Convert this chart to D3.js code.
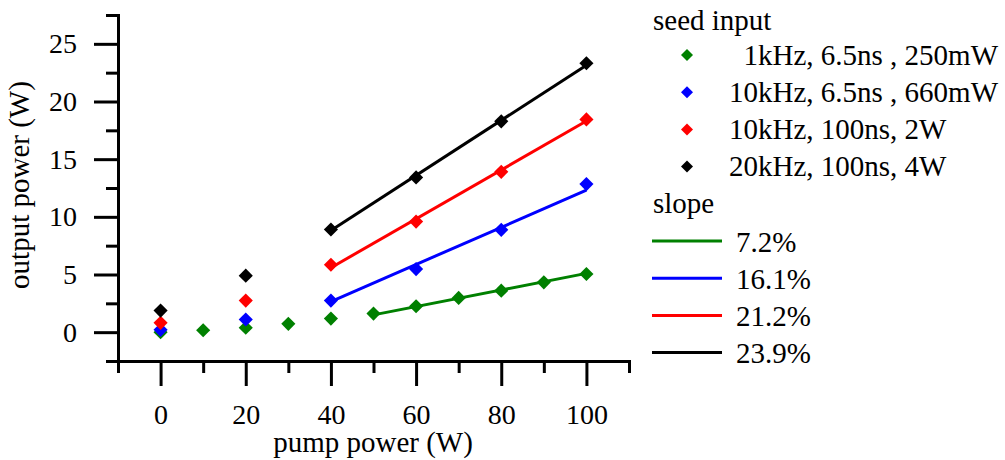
<!DOCTYPE html>
<html>
<head>
<meta charset="utf-8">
<script src="https://cdn.jsdelivr.net/npm/d3@7"></script>
<style>
  html, body { margin: 0; padding: 0; background: #fff; }
  svg { display: block; font-family: "Liberation Serif", "Times New Roman", serif; }
  .lbl { white-space: pre; }
</style>
</head>
<body>
<svg id="chart" width="1005" height="460"></svg>
<script>
// Pump power (W) at which each seed configuration was measured
const pump1k = [0, 10, 20, 30, 40, 50, 60, 70, 80, 90, 100];
const pumpOther = [0, 20, 40, 60, 80, 100];

// Output power (W)
const out1k = [0.0, 0.17, 0.38, 0.72, 1.18, 1.61, 2.25, 2.97, 3.6, 4.32, 5.04];
const out10kShort = [0.2, 1.1, 2.74, 5.47, 8.87, 12.84];
const out10kLong = [0.81, 2.74, 5.85, 9.59, 13.9, 18.45];
const out20kLong = [1.87, 4.9, 8.9, 13.42, 18.28, 23.32];

const seedLabels = ["  1kHz, 6.5ns , 250mW", "10kHz, 6.5ns , 660mW", "10kHz, 100ns, 2W", "20kHz, 100ns, 4W"];
const seriesColors = ["#008000", "#0000ff", "#ff0000", "#000000"];

// Slope efficiencies (%) and the pump range each linear fit covers
const slopes = [7.2, 16.1, 21.2, 23.9];
const fitFrom = [50, 40, 40, 40];
const fitTo = [100, 100, 100, 100];

const xMajor = [0, 20, 40, 60, 80, 100];
const xMinor = [-10, 10, 30, 50, 70, 90, 110];
const yMajor = [0, 5, 10, 15, 20, 25];
const yMinor = [-2.5, 2.5, 7.5, 12.5, 17.5, 22.5, 27.5];

const series = [
  { x: pump1k, y: out1k },
  { x: pumpOther, y: out10kShort },
  { x: pumpOther, y: out10kLong },
  { x: pumpOther, y: out20kLong }
].map((s, i) => ({
  pts: s.x.map((v, j) => ({ x: v, y: s.y[j] })),
  color: seriesColors[i],
  label: seedLabels[i],
  slope: slopes[i],
  from: fitFrom[i],
  to: fitTo[i]
}));

const svg = d3.select("#chart");
const x = d3.scaleLinear().domain([-10, 110]).range([118, 629]);
const y = d3.scaleLinear().domain([-2.5, 27.5]).range([361, 15]);

const tickFont = 28;
const textFont = 29;

function styleAxis(g) {
  g.selectAll("path.domain").attr("stroke", "#000").attr("stroke-width", 3).attr("stroke-linecap", "square");
  g.selectAll(".tick line").attr("stroke", "#000").attr("stroke-width", 3);
  g.selectAll(".tick text").attr("fill", "#000").style("font-size", tickFont + "px")
    .style("font-family", '"Liberation Serif", "Times New Roman", serif');
}

// X axis: minor then major ticks
svg.append("g").attr("transform", `translate(0,${y.range()[0]})`)
  .call(d3.axisBottom(x).tickValues(xMinor).tickSize(12).tickSizeOuter(0).tickFormat(""))
  .call(styleAxis);
svg.append("g").attr("transform", `translate(0,${y.range()[0]})`)
  .call(d3.axisBottom(x).tickValues(xMajor).tickSize(25).tickSizeOuter(0).tickPadding(18).tickFormat(d3.format("d")))
  .call(styleAxis)
  .call(g => g.select("path.domain").remove());

// Y axis: minor then major ticks
svg.append("g").attr("transform", `translate(${x.range()[0]},0)`)
  .call(d3.axisLeft(y).tickValues(yMinor).tickSize(12).tickSizeOuter(0).tickFormat(""))
  .call(styleAxis);
svg.append("g").attr("transform", `translate(${x.range()[0]},0)`)
  .call(d3.axisLeft(y).tickValues(yMajor).tickSize(24).tickSizeOuter(0).tickPadding(17).tickFormat(d3.format("d")))
  .call(styleAxis)
  .call(g => g.select("path.domain").remove());

// Axis titles
svg.append("text")
  .attr("x", 373).attr("y", 452)
  .attr("text-anchor", "middle")
  .style("font-size", textFont + "px")
  .text("pump power (W)");
svg.append("text")
  .attr("transform", "translate(29,185) rotate(-90)")
  .attr("text-anchor", "middle")
  .style("font-size", textFont + "px")
  .text("output power (W)");

// Linear fits: stated slope through the centroid of the fitted points
const line = d3.line().x(d => x(d.x)).y(d => y(d.y));
series.forEach(s => {
  const fitPts = s.pts.filter(p => p.x >= s.from && p.x <= s.to);
  const mx = d3.mean(fitPts, p => p.x);
  const my = d3.mean(fitPts, p => p.y);
  const k = s.slope / 100;
  const f = v => my + k * (v - mx);
  svg.append("path")
    .datum([{ x: s.from, y: f(s.from) }, { x: s.to, y: f(s.to) }])
    .attr("d", line)
    .attr("fill", "none")
    .attr("stroke", s.color)
    .attr("stroke-width", 3);
});

// Data points as diamonds
const diamond = d3.symbol().type(d3.symbolSquare).size(100);
series.forEach(s => {
  svg.append("g").selectAll("path")
    .data(s.pts)
    .join("path")
    .attr("d", diamond)
    .attr("transform", d => `translate(${x(d.x)},${y(d.y)}) rotate(45)`)
    .attr("fill", s.color);
});

// Legend: seed input
const legend = svg.append("g").style("font-size", textFont + "px");
legend.append("text").attr("x", 653).attr("y", 30).text("seed input");
const smallDiamond = d3.symbol().type(d3.symbolSquare).size(72);
series.forEach((s, i) => {
  const cy = 55 + i * 37.2;
  legend.append("path")
    .attr("d", smallDiamond)
    .attr("transform", `translate(687,${cy}) rotate(45)`)
    .attr("fill", s.color);
  legend.append("text")
    .attr("class", "lbl")
    .attr("x", 729).attr("y", cy + 9.5)
    .text(s.label);
});

// Legend: slope
legend.append("text").attr("x", 653).attr("y", 213).text("slope");
series.forEach((s, i) => {
  const cy = 241 + i * 37.2;
  legend.append("line")
    .attr("x1", 652).attr("x2", 722)
    .attr("y1", cy).attr("y2", cy)
    .attr("stroke", s.color)
    .attr("stroke-width", 3);
  legend.append("text")
    .attr("x", 736).attr("y", cy + 10.5)
    .text(s.slope.toFixed(1) + "%");
});
</script>
</body>
</html>
